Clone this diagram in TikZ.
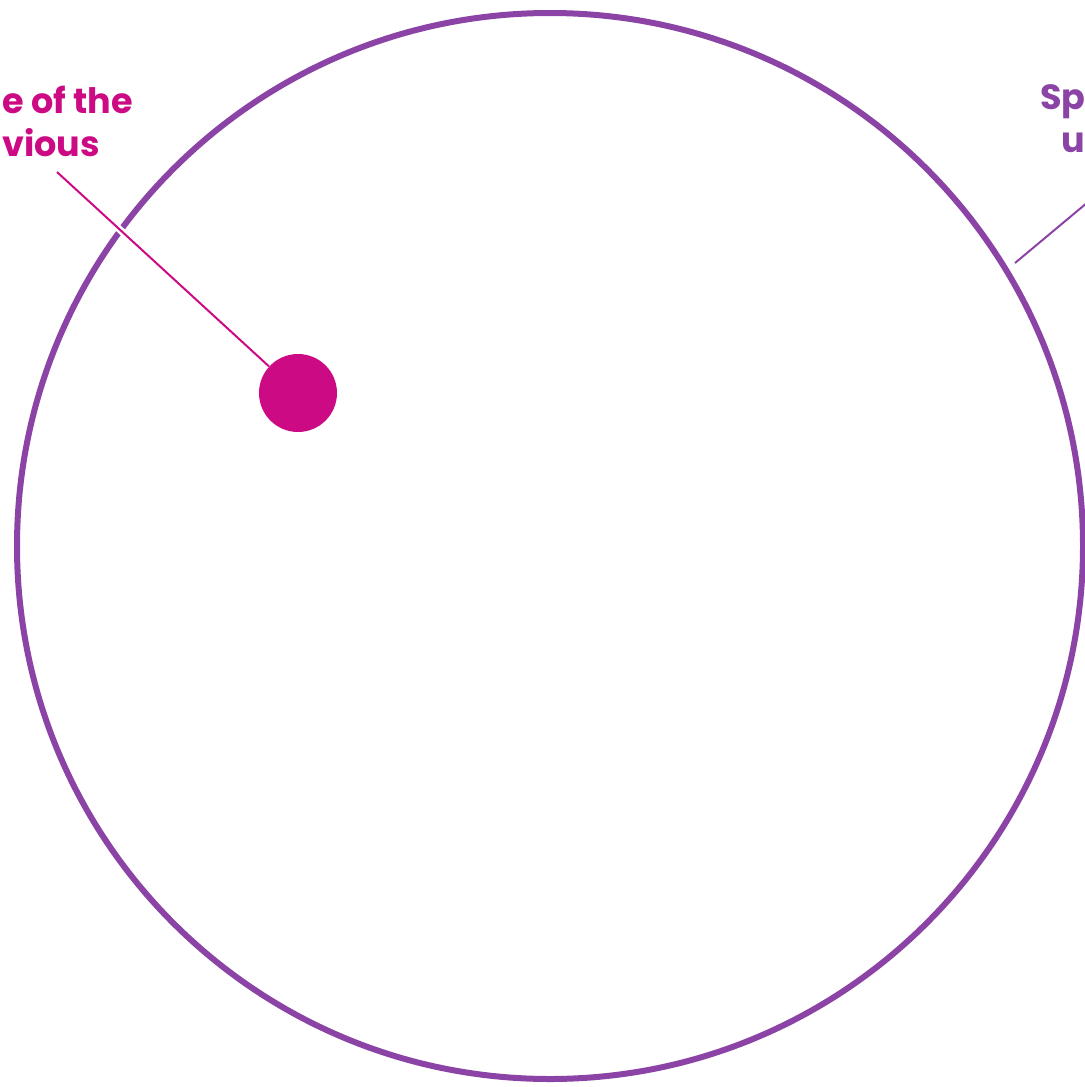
\documentclass[tikz,border=0pt]{standalone}
\usepackage{fontspec}
\setmainfont{Poppins}
\usepackage{xcolor}
\usetikzlibrary{positioning}
\definecolor{viola}{HTML}{8B44A6}
\definecolor{rosa}{HTML}{CC0A84}

\tikzset{
  etichetta/.style={font=\fontsize{17.5}{21.5}\selectfont\bfseries, inner sep=0pt, align=left},
  leader/.style={line width=1pt}
}

\begin{document}
\begin{tikzpicture}[x=0.5pt,y=-0.5pt]
\useasboundingbox (0,0) rectangle (1085,1087);
\clip (0,0) rectangle (1085,1087);

% Cerchio grande
\draw[viola,line width=3pt] (550,546) circle (533);

% Punto centrale
\node[circle,fill=rosa,minimum size=39pt,inner sep=0pt] (centro) at (298,393) {};

% Etichette tagliate dal bordo
\node[etichetta,text=rosa,anchor=north west] (lblsx) at (2,86) {e of the\\vious};
\node[etichetta,text=viola,anchor=north west] (lbldx) at (1040,84) {Sp\\\hspace*{10.5pt}u};

% Linee di richiamo
\coordinate (capsx) at (57,172);
\coordinate (capdx) at (1100,192);
\coordinate (bordo) at (1015,263);
\draw[leader,rosa,preaction={draw=white,line width=3.5pt,shorten >=25pt}] (capsx) -- (centro);
\draw[leader,viola] (bordo) -- (capdx);
\end{tikzpicture}
\end{document}
